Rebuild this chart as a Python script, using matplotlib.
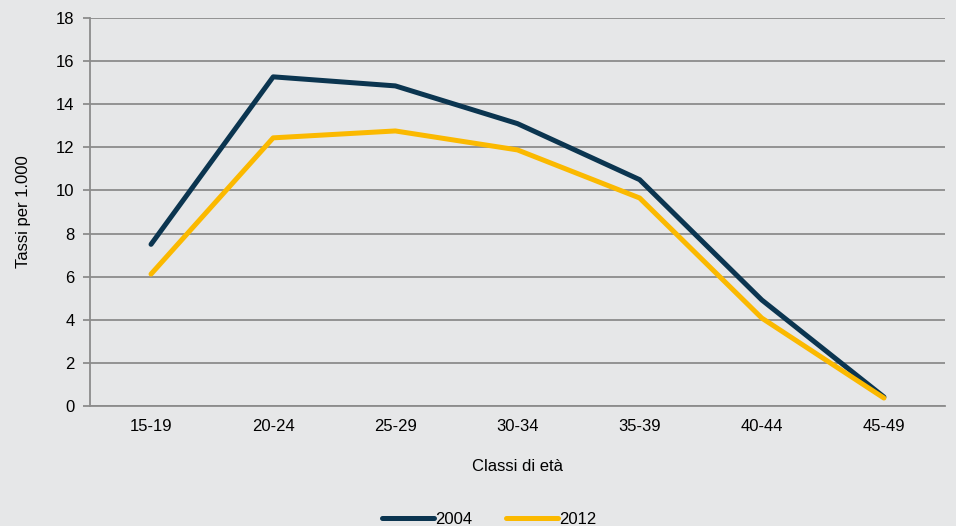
import numpy as np
import matplotlib.pyplot as plt

plt.rcParams['font.family'] = ['Liberation Sans', 'DejaVu Sans']

classi = ['15-19', '20-24', '25-29', '30-34', '35-39', '40-44', '45-49']
tassi_2004 = [7.5, 15.27, 14.85, 13.1, 10.5, 4.92, 0.42]
tassi_2012 = [6.12, 12.44, 12.76, 11.88, 9.65, 4.08, 0.37]

bg = '#e6e7e8'
fig = plt.figure(figsize=(9.56, 5.26), dpi=100, facecolor=bg)
ax = fig.add_axes([0.0941, 0.2281, 0.8944, 0.7377], facecolor=bg)

x = np.arange(len(classi))
ax.plot(x, tassi_2004, color='#0b3550', lw=3.6, label='2004', solid_capstyle='round')
ax.plot(x, tassi_2012, color='#fbb900', lw=3.6, label='2012', solid_capstyle='round')

ax.set_xlim(-0.5, len(classi) - 0.5)
ax.set_ylim(0, 18)
ax.set_yticks(np.arange(0, 19, 2))
ax.set_xticks(x)
ax.set_xticklabels(classi)
ax.yaxis.grid(True, color='#8c8c8c', lw=1.3)
ax.set_axisbelow(True)

for s in ['top', 'right']:
    ax.spines[s].set_visible(False)
for s in ['left', 'bottom']:
    ax.spines[s].set_color('#8c8c8c')
    ax.spines[s].set_linewidth(1.3)

ax.tick_params(axis='y', length=5, color='#8c8c8c', width=1.3, labelsize=12, pad=6)
ax.tick_params(axis='x', length=0, labelsize=12, pad=9)

ax.set_xlabel('Classi di età', fontsize=12, labelpad=18)
ax.set_ylabel('Tassi per 1.000', fontsize=12, labelpad=18)

fig.legend(loc='lower center', bbox_to_anchor=(0.512, -0.03), ncol=2, frameon=False,
           fontsize=12, handlelength=3.1, handletextpad=0.1, columnspacing=2.0)

fig.savefig('out.png', dpi=100, facecolor=bg)
